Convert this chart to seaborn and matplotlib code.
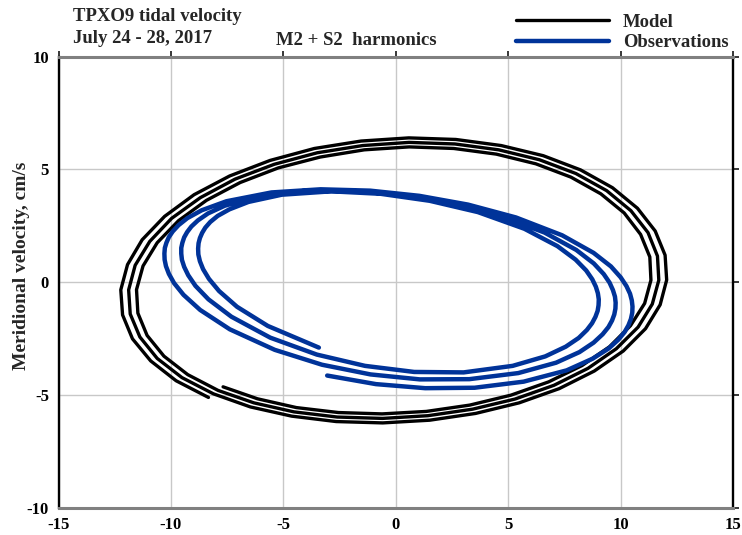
import matplotlib
matplotlib.use("Agg")
import matplotlib.pyplot as plt
import pandas as pd
import seaborn as sns

# Model (TPXO9) tidal velocity trace, cm/s (zonal u, meridional v)
model_u = [-7.68, -6.15, -4.42, -2.55, -0.61, 1.36, 3.29, 5.12, 6.80, 8.28, 9.51, 10.44, 11.07, 11.35, 11.30, 10.89,
           10.16, 9.12, 7.79, 6.23, 4.47, 2.58, 0.60, -1.40, -3.36, -5.22, -6.92, -8.42, -9.66, -10.61, -11.24, -11.53,
           -11.47, -11.06, -10.31, -9.25, -7.90, -6.31, -4.53, -2.60, -0.59, 1.43, 3.42, 5.31, 7.04, 8.55, 9.81, 10.78,
           11.41, 11.70, 11.64, 11.22, 10.46, 9.38, 8.01, 6.39, 4.58, 2.63, 0.59, -1.47, -3.49, -5.40, -7.15, -8.69,
           -9.97, -10.94, -11.59, -11.88, -11.81, -11.38, -10.61, -9.51, -8.11, -6.47, -4.63, -2.65, -0.58, 1.51, 3.55,
           5.49, 7.27, 8.83, 10.12, 11.11, 11.76, 12.05, 11.98, 11.54, 10.75, 9.64, 8.22, 6.56, 4.69, 2.67, 0.58, -1.54,
           -3.62, -5.59, -7.39, -8.97, -10.28, -11.28, -11.93, -12.23, -12.15, -11.71, -10.90, -9.77, -8.33]
model_v = [-4.64, -5.17, -5.56, -5.78, -5.84, -5.73, -5.45, -5.01, -4.42, -3.70, -2.86, -1.93, -0.94, 0.09, 1.12, 2.12,
           3.07, 3.92, 4.66, 5.25, 5.68, 5.93, 6.00, 5.87, 5.55, 5.07, 4.42, 3.63, 2.73, 1.75, 0.72, -0.33, -1.37, -2.36,
           -3.28, -4.10, -4.80, -5.35, -5.75, -5.98, -6.04, -5.92, -5.63, -5.18, -4.57, -3.82, -2.95, -1.99, -0.97, 0.09,
           1.16, 2.20, 3.17, 4.06, 4.82, 5.43, 5.87, 6.13, 6.20, 6.06, 5.74, 5.23, 4.57, 3.75, 2.83, 1.81, 0.75, -0.34,
           -1.41, -2.43, -3.38, -4.23, -4.95, -5.53, -5.94, -6.18, -6.24, -6.12, -5.82, -5.35, -4.72, -3.94, -3.05,
           -2.06, -1.00, 0.10, 1.20, 2.27, 3.28, 4.19, 4.98, 5.61, 6.06, 6.33, 6.40, 6.26, 5.93, 5.40, 4.71, 3.88, 2.92,
           1.88, 0.78, -0.34, -1.45, -2.51, -3.49, -4.37, -5.11]

# Observed tidal velocity trace, cm/s
obs_u = [-3.05, -0.88, 1.31, 3.51, 5.69, 7.60, 8.76, 9.47, 9.90, 10.18, 10.35, 10.46, 10.52, 10.53, 10.50, 10.42,
         10.26, 10.00, 9.57, 8.80, 7.40, 5.35, 3.22, 1.05, -1.14, -3.34, -5.53, -7.53, -8.63, -9.27, -9.66, -9.92,
         -10.09, -10.20, -10.27, -10.29, -10.28, -10.22, -10.09, -9.86, -9.44, -8.70, -7.38, -5.38, -3.28, -1.12, 1.07,
         3.27, 5.45, 7.13, 8.17, 8.80, 9.20, 9.46, 9.62, 9.72, 9.77, 9.78, 9.75, 9.66, 9.51, 9.25, 8.81, 8.03, 6.62,
         4.56, 2.43, 0.25, -1.94, -4.14, -6.32, -7.61, -8.35, -8.80, -9.09, -9.28, -9.41, -9.49, -9.54, -9.54, -9.51,
         -9.41, -9.23, -8.91, -8.33, -7.31, -5.58, -3.51, -1.37, 0.82, 3.02, 5.20, 6.65, 7.56, 8.14, 8.50, 8.73, 8.88,
         8.98, 9.02, 9.03, 8.99, 8.90, 8.74, 8.47, 8.00, 7.19, 5.72, 3.65, 1.51, -0.67, -2.87, -5.07, -6.55, -7.40,
         -7.92, -8.25, -8.47, -8.61, -8.71, -8.77, -8.79, -8.78, -8.71, -8.57, -8.31, -7.86, -7.06, -5.69, -3.42]
obs_v = [-4.14, -4.52, -4.70, -4.68, -4.41, -3.91, -3.39, -2.94, -2.55, -2.21, -1.91, -1.63, -1.35, -1.08, -0.81,
         -0.51, -0.17, 0.22, 0.70, 1.30, 2.08, 2.87, 3.44, 3.83, 4.06, 4.12, 3.98, 3.59, 3.19, 2.84, 2.53, 2.25, 2.00,
         1.75, 1.52, 1.27, 1.00, 0.71, 0.37, -0.04, -0.56, -1.23, -2.09, -3.00, -3.66, -4.09, -4.31, -4.30, -4.03,
         -3.57, -3.10, -2.68, -2.31, -1.99, -1.70, -1.43, -1.17, -0.91, -0.64, -0.35, -0.02, 0.36, 0.83, 1.43, 2.20,
         2.97, 3.52, 3.87, 4.05, 4.04, 3.76, 3.39, 3.05, 2.74, 2.47, 2.22, 1.99, 1.75, 1.52, 1.27, 0.99, 0.68, 0.31,
         -0.16, -0.76, -1.53, -2.46, -3.21, -3.71, -3.98, -4.00, -3.71, -3.29, -2.86, -2.47, -2.12, -1.82, -1.54, -1.27,
         -1.02, -0.76, -0.49, -0.20, 0.13, 0.52, 1.00, 1.60, 2.37, 3.11, 3.61, 3.92, 4.03, 3.88, 3.56, 3.23, 2.94, 2.67,
         2.42, 2.19, 1.96, 1.73, 1.49, 1.23, 0.93, 0.58, 0.15, -0.39, -1.09, -1.94, -2.90]

series_names = ["Model", "Observations"]
series_colors = ["black", "#003399"]
x_ticks = [-15, -10, -5, 0, 5, 10, 15]
y_ticks = [-10, -5, 0, 5, 10]
title_lines = ["TPXO9 tidal velocity", "July 24 - 28, 2017"]
subtitle = "M2 + S2  harmonics"
y_label = "Meridional velocity, cm/s"

sns.set_style("white")
plt.rcParams["font.family"] = ["Liberation Serif", "DejaVu Serif"]
plt.rcParams["font.weight"] = "bold"
plt.rcParams["axes.unicode_minus"] = False

W, H = 742, 535
fig = plt.figure(figsize=(W / 100, H / 100), dpi=100)
ax = fig.add_axes([58.5 / W, (H - 507.7) / H, (733 - 58.5) / W, (507.7 - 56.7) / H])

model_df = pd.DataFrame({"u": model_u, "v": model_v})
obs_df = pd.DataFrame({"u": obs_u, "v": obs_v})
sns.lineplot(data=model_df, x="u", y="v", sort=False, estimator=None, color=series_colors[0], lw=2.4,
             label=series_names[0], ax=ax)
sns.lineplot(data=obs_df, x="u", y="v", sort=False, estimator=None, color=series_colors[1], lw=3.2,
             label=series_names[1], ax=ax)

ax.set_xlim(-15, 15)
ax.set_ylim(-10, 10)
ax.set_xticks(x_ticks)
ax.set_xticklabels([str(v) for v in x_ticks])
ax.set_yticks(y_ticks)
ax.set_yticklabels([str(v) for v in y_ticks])
ax.tick_params(axis="both", direction="out", length=4.3, width=1.1, top=True, right=True,
               labelsize=12, pad=2.5, colors="black")
ax.grid(True, color="#c8c8c8", lw=1.0)
ax.set_axisbelow(True)
for sp in ["left", "right"]:
    ax.spines[sp].set_color("black")
    ax.spines[sp].set_linewidth(1.7)
for sp in ["top", "bottom"]:
    ax.spines[sp].set_color("#808080")
    ax.spines[sp].set_linewidth(2.2)

ax.set_xlabel("")
ax.set_ylabel(y_label, fontsize=14, fontweight="bold")
ax.yaxis.set_label_coords((30 - 58.5) / 674.5, 0.537)

fig.text(73.3 / W, 1 - 20.7 / H, title_lines[0], fontsize=13.5, fontweight="bold", va="baseline")
fig.text(73.3 / W, 1 - 43.3 / H, title_lines[1], fontsize=13.5, fontweight="bold", va="baseline")
fig.text(276 / W, 1 - 45 / H, subtitle, fontsize=13.5, fontweight="bold", va="baseline")

ax.legend(loc="upper left", bbox_to_anchor=(516 / W, 1 - 13.7 / H), bbox_transform=fig.transFigure,
          frameon=False, handlelength=5.0, handletextpad=0.74, labelspacing=0.2, borderpad=0,
          borderaxespad=0, prop=dict(family="Liberation Serif", weight="bold", size=13.4))

fig.savefig("out.png", dpi=100)
